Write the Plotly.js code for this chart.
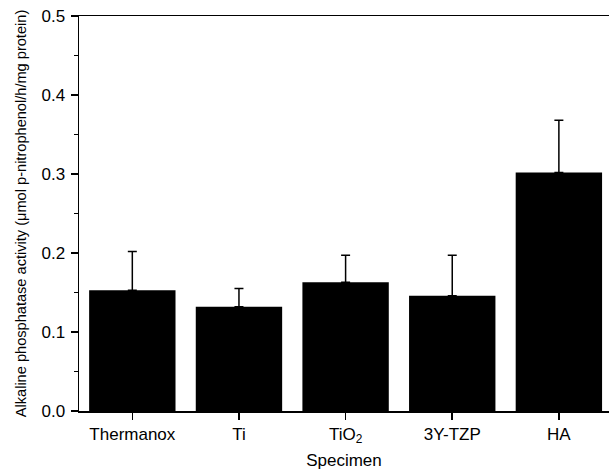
<!DOCTYPE html>
<html>
<head>
<meta charset="utf-8">
<script src="https://cdn.plot.ly/plotly-3.0.1.min.js"></script>
<style>html,body{margin:0;padding:0;background:#fff;}#chart{width:610px;height:470px;}</style>
</head>
<body>
<div id="chart"></div>
<script>
var categories = ["Thermanox", "Ti", "TiO<sub>2</sub>", "3Y-TZP", "HA"];
var activity = [0.153, 0.132, 0.163, 0.146, 0.302];
var errorUp = [0.049, 0.023, 0.034, 0.051, 0.066];
var errorDown = [0, 0, 0, 0, 0];
var yTickVals = [0.0, 0.1, 0.2, 0.3, 0.4, 0.5];
var yTickText = ["0.0", "0.1", "0.2", "0.3", "0.4", "0.5"];

var font = "Liberation Sans, Arial, sans-serif";

var trace = {
  type: "bar",
  x: categories,
  y: activity,
  width: 0.81,
  marker: {color: "#000000", line: {width: 0}},
  error_y: {
    type: "data",
    symmetric: false,
    array: errorUp,
    arrayminus: errorDown,
    color: "#000000",
    thickness: 1.5,
    width: 4.5
  },
  hoverinfo: "skip"
};

var layout = {
  width: 610,
  height: 470,
  margin: {l: 79, r: 1, t: 16, b: 59},
  paper_bgcolor: "#ffffff",
  plot_bgcolor: "#ffffff",
  showlegend: false,
  font: {family: font, color: "#000000", size: 17},
  xaxis: {
    type: "category",
    range: [-0.5, 4.47],
    showline: true,
    linecolor: "#000000",
    linewidth: 1.5,
    mirror: true,
    ticks: "outside",
    ticklen: 7,
    tickwidth: 1.5,
    tickcolor: "#000000",
    showgrid: false,
    zeroline: false,
    tickfont: {family: font, size: 17, color: "#000000"},
    title: {text: "Specimen", font: {family: font, size: 17, color: "#000000"}, standoff: 8}
  },
  yaxis: {
    range: [0, 0.5],
    tickvals: yTickVals,
    ticktext: yTickText,
    showline: true,
    linecolor: "#000000",
    linewidth: 1.5,
    mirror: false,
    ticks: "outside",
    ticklen: 7,
    tickwidth: 1.5,
    tickcolor: "#000000",
    ticklabelstandoff: 2,
    minor: {dtick: 0.05, ticks: "outside", ticklen: 4, tickwidth: 1, tickcolor: "#000000"},
    showgrid: false,
    zeroline: false,
    tickfont: {family: font, size: 17, color: "#000000"},
    title: {text: "Alkaline phosphatase activity (\u03bcmol p-nitrophenol/h/mg protein)", font: {family: font, size: 14.6, color: "#000000"}, standoff: 11}
  }
};

Plotly.newPlot("chart", [trace], layout, {displayModeBar: false, staticPlot: true});
</script>
</body>
</html>
